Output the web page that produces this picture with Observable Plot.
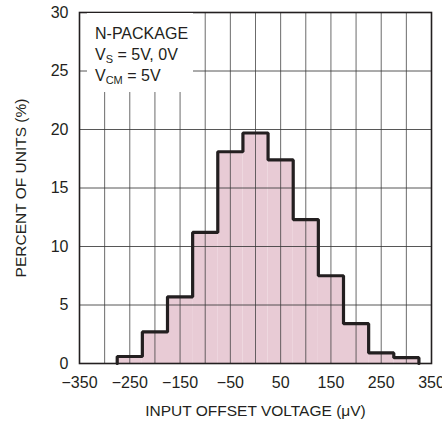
<!DOCTYPE html>
<html><head><meta charset="utf-8">
<script src="https://cdn.jsdelivr.net/npm/d3@7"></script>
<script src="https://cdn.jsdelivr.net/npm/@observablehq/plot@0.6"></script>
<style>
body{margin:0;background:#fff;}
#wrap{position:relative;width:442px;height:423px;font-family:"Liberation Sans",Arial,sans-serif;}
#note{position:absolute;left:87px;top:13px;width:106px;height:79px;background:#fff;font-size:16px;line-height:21px;color:#231f20;padding:10px 0 0 8px;box-sizing:border-box;}
#note sub{font-size:11px;vertical-align:-3px;line-height:0;}
</style></head>
<body><div id="wrap"><div id="note"></div></div>
<script>
const binStarts = [-275,-225,-175,-125,-75,-25,25,75,125,175,225,275];
const binWidth = 50;
const percents = [0.6,2.7,5.7,11.2,18.1,19.7,17.4,12.3,7.5,3.4,0.9,0.5];
const xTicks = [-350,-250,-150,-50,50,150,250,350];
const yTicks = [0,5,10,15,20,25,30];
const xGrid = d3.range(-350,351,50);
const noteLines = ["N-PACKAGE","V<sub>S</sub> = 5V, 0V","V<sub>CM</sub> = 5V"];

const bins = binStarts.map((s,i)=>({x1:s,x2:s+binWidth,y:percents[i]}));
const outline = [{x:binStarts[0],y:0}, ...bins.map(b=>({x:b.x1,y:b.y})), {x:bins[bins.length-1].x2,y:0}];

const chart = Plot.plot({
  width:442, height:423,
  marginLeft:79, marginRight:11, marginTop:12, marginBottom:60,
  style:{fontFamily:'"Liberation Sans",Arial,sans-serif',fontSize:"16px",color:"#231f20",background:"transparent",overflow:"visible"},
  x:{domain:[-350,350]},
  y:{domain:[0,30]},
  marks:[
    Plot.rectY(bins,{x1:"x1",x2:"x2",y:"y",fill:"#e8cbd5",inset:0}),
    Plot.ruleX(xGrid,{stroke:"#3a3a3a",strokeWidth:1,strokeOpacity:0.75}),
    Plot.ruleY(yTicks,{stroke:"#3a3a3a",strokeWidth:1,strokeOpacity:0.85}),
    Plot.line(outline,{x:"x",y:"y",curve:"step-after",stroke:"#231f20",strokeWidth:3.2,strokeLinejoin:"miter"}),
    Plot.frame({stroke:"#231f20",strokeWidth:1.6}),
    Plot.axisX(xTicks,{tickSize:0,tickPadding:13,fontSize:16,label:null}),
    Plot.axisY(yTicks,{tickSize:0,tickPadding:11,fontSize:16,label:null}),
    Plot.axisX([],{label:"INPUT OFFSET VOLTAGE (μV)",labelAnchor:"center",labelArrow:"none",labelOffset:52,tickSize:0,fontSize:15.5}),
    Plot.axisY([],{label:"PERCENT OF UNITS (%)",labelAnchor:"center",labelArrow:"none",labelOffset:65,tickSize:0,fontSize:15.5})
  ]
});
const wrap = document.getElementById("wrap");
wrap.insertBefore(chart, wrap.firstChild);
document.getElementById("note").innerHTML = noteLines.join("<br>");
</script>
</body></html>
